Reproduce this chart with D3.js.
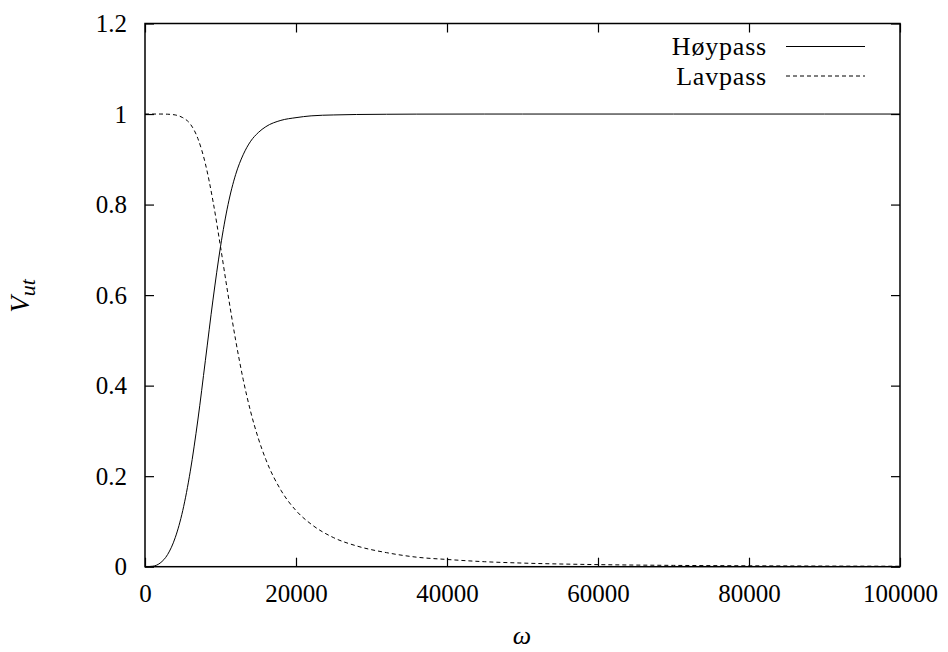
<!DOCTYPE html>
<html><head><meta charset="utf-8">
<script src="https://cdn.jsdelivr.net/npm/d3@7"></script>
<style>
html,body{margin:0;padding:0;background:#fff;}
text{font-family:"Liberation Serif","Times New Roman",serif;fill:#000;}
</style></head>
<body><svg id="c" width="948" height="652"></svg>
<script>
// omega values (rad/s)
const omega = [0,1000,2000,3000,4000,5000,6000,7000,8000,9000,10000,11000,12000,13000,14000,15000,16000,18000,20000,22000,25000,28000,32000,36000,40000,45000,50000,60000,70000,80000,90000,100000];
// Høypass (solid)
const hoypass = [0,0.001,0.008,0.027,0.064,0.124,0.211,0.324,0.456,0.589,0.707,0.800,0.866,0.910,0.940,0.959,0.972,0.986,0.992,0.996,0.998,0.999,0.9995,0.9998,0.9999,1,1,1,1,1,1,1];
// Lavpass (dashed)
const lavpass = [1,1,1,0.9996,0.998,0.992,0.978,0.946,0.890,0.808,0.707,0.601,0.501,0.414,0.342,0.284,0.237,0.169,0.124,0.094,0.064,0.046,0.031,0.021,0.016,0.011,0.008,0.0046,0.0029,0.0020,0.0014,0.0010];
const xTicks = [0,20000,40000,60000,80000,100000];
const xTickLabels = ["0","20000","40000","60000","80000","100000"];
const yTicks = [0,0.2,0.4,0.6,0.8,1,1.2];
const yTickLabels = ["0","0.2","0.4","0.6","0.8","1","1.2"];
const seriesNames = ["Høypass","Lavpass"];

const svg = d3.select("#c");
const L = 145, R = 900, T = 23.5, B = 566.7;
const x = d3.scaleLinear().domain([0,100000]).range([L,R]);
const y = d3.scaleLinear().domain([0,1.2]).range([B,T]);
const fs = 25;

const gx = svg.append("g").attr("transform",`translate(0,${B})`)
  .call(d3.axisBottom(x).tickValues(xTicks).tickFormat((d,i)=>xTickLabels[i]).tickSize(-9).tickSizeOuter(0).tickPadding(18));
const gy = svg.append("g").attr("transform",`translate(${L},0)`)
  .call(d3.axisLeft(y).tickValues(yTicks).tickFormat((d,i)=>yTickLabels[i]).tickSize(-9).tickSizeOuter(0).tickPadding(18));
const gt = svg.append("g").attr("transform",`translate(0,${T})`)
  .call(d3.axisTop(x).tickValues(xTicks).tickFormat("").tickSize(-9).tickSizeOuter(0));
const gr = svg.append("g").attr("transform",`translate(${R},0)`)
  .call(d3.axisRight(y).tickValues(yTicks).tickFormat("").tickSize(-9).tickSizeOuter(0));
[gx,gy,gt,gr].forEach(g=>{
  g.attr("font-family",null);
  g.select(".domain").remove();
  g.selectAll("line").attr("stroke","#000").attr("stroke-width",1.2);
  g.selectAll("text").style("font-size",fs+"px").style("font-family",'"Liberation Serif",serif');
});

svg.append("rect").attr("x",L).attr("y",T).attr("width",R-L).attr("height",B-T)
  .attr("fill","none").attr("stroke","#000").attr("stroke-width",1.5);

const lineH = d3.line().x((d,i)=>x(omega[i])).y(d=>y(d)).curve(d3.curveMonotoneX);
svg.append("path").datum(hoypass).attr("d",lineH).attr("fill","none").attr("stroke","#000").attr("stroke-width",1);
svg.append("path").datum(lavpass).attr("d",lineH).attr("fill","none").attr("stroke","#000").attr("stroke-width",1).attr("stroke-dasharray","4,3");

// legend
const leg = [{name:seriesNames[0],dash:null,y:46.5},{name:seriesNames[1],dash:"4,3",y:76}];
leg.forEach(l=>{
  svg.append("text").attr("x",767).attr("y",l.y).attr("dy","0.33em").attr("text-anchor","end")
    .style("font-size","26px").style("letter-spacing","0.8px").text(l.name);
  svg.append("line").attr("x1",786).attr("x2",865).attr("y1",l.y).attr("y2",l.y)
    .attr("stroke","#000").attr("stroke-width",1).attr("stroke-dasharray",l.dash);
});

// axis labels
const yl = svg.append("text").attr("transform","translate(29,296) rotate(-90)").attr("text-anchor","middle")
  .style("font-size","27px").style("font-style","italic");
yl.append("tspan").text("V");
yl.append("tspan").attr("dy","6").style("font-size","22px").text("ut");
svg.append("text").attr("x",522).attr("y",644).attr("text-anchor","middle")
  .style("font-size","26px").style("font-style","italic").text("ω");
</script></body></html>
